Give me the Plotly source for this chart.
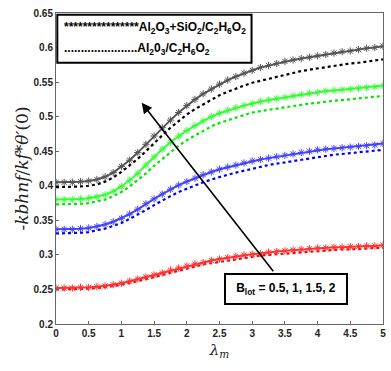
import plotly.graph_objects as go

lam = [i * 0.125 for i in range(41)]

hyb_b2 = [0.405,0.405,0.405,0.406,0.407,0.409,0.413,0.419,0.428,0.437,0.448,0.460,0.472,0.484,0.495,0.506,0.516,0.525,0.533,0.540,0.547,0.553,0.558,0.563,0.567,0.571,0.574,0.577,0.580,0.582,0.584,0.586,0.588,0.590,0.592,0.594,0.595,0.597,0.599,0.600,0.602]
mono_b2 = [0.398,0.398,0.398,0.399,0.400,0.402,0.406,0.412,0.420,0.429,0.439,0.450,0.462,0.473,0.484,0.494,0.503,0.511,0.518,0.525,0.531,0.536,0.541,0.545,0.549,0.552,0.555,0.558,0.561,0.563,0.566,0.568,0.570,0.572,0.574,0.575,0.577,0.578,0.580,0.581,0.583]
hyb_b15 = [0.380,0.380,0.380,0.381,0.382,0.384,0.387,0.392,0.399,0.408,0.418,0.430,0.442,0.453,0.463,0.472,0.480,0.487,0.494,0.500,0.505,0.509,0.513,0.516,0.519,0.522,0.524,0.526,0.528,0.530,0.532,0.534,0.535,0.537,0.538,0.539,0.540,0.541,0.542,0.543,0.545]
mono_b15 = [0.373,0.373,0.373,0.374,0.375,0.377,0.380,0.385,0.391,0.399,0.408,0.418,0.429,0.439,0.449,0.458,0.466,0.473,0.480,0.486,0.491,0.495,0.499,0.503,0.506,0.508,0.510,0.512,0.514,0.516,0.518,0.519,0.520,0.522,0.523,0.524,0.525,0.526,0.527,0.528,0.530]
hyb_b1 = [0.337,0.337,0.337,0.338,0.339,0.341,0.344,0.348,0.353,0.359,0.366,0.374,0.381,0.388,0.395,0.401,0.406,0.411,0.416,0.420,0.424,0.427,0.430,0.433,0.436,0.438,0.440,0.442,0.444,0.446,0.448,0.450,0.452,0.453,0.454,0.455,0.456,0.457,0.458,0.459,0.461]
mono_b1 = [0.331,0.331,0.331,0.332,0.333,0.335,0.338,0.342,0.346,0.352,0.358,0.365,0.372,0.379,0.385,0.391,0.396,0.401,0.405,0.409,0.413,0.416,0.419,0.422,0.425,0.427,0.430,0.432,0.434,0.436,0.438,0.440,0.442,0.443,0.445,0.446,0.447,0.449,0.450,0.451,0.452]
hyb_b05 = [0.252,0.252,0.252,0.253,0.253,0.254,0.255,0.257,0.259,0.262,0.265,0.268,0.271,0.274,0.278,0.281,0.284,0.287,0.289,0.292,0.294,0.296,0.298,0.300,0.301,0.302,0.304,0.305,0.306,0.307,0.308,0.309,0.310,0.310,0.311,0.311,0.312,0.312,0.313,0.313,0.314]
mono_b05 = [0.250,0.250,0.250,0.251,0.251,0.252,0.253,0.255,0.257,0.259,0.262,0.265,0.268,0.271,0.275,0.278,0.281,0.283,0.286,0.288,0.290,0.292,0.294,0.296,0.297,0.299,0.300,0.301,0.302,0.303,0.304,0.305,0.306,0.307,0.307,0.308,0.308,0.309,0.309,0.310,0.310]

x_ticks = [0, 0.5, 1, 1.5, 2, 2.5, 3, 3.5, 4, 4.5, 5]
x_ticklabels = ["0", "0.5", "1", "1.5", "2", "2.5", "3", "3.5", "4", "4.5", "5"]
y_ticks = [0.2, 0.25, 0.3, 0.35, 0.4, 0.45, 0.5, 0.55, 0.6, 0.65]
y_ticklabels = ["0.2", "0.25", "0.3", "0.35", "0.4", "0.45", "0.5", "0.55", "0.6", "0.65"]

series = [
    (hyb_b2, mono_b2, "#000000", "#555555"),
    (hyb_b15, mono_b15, "#00e600", "#33ff33"),
    (hyb_b1, mono_b1, "#0000ff", "#4444ff"),
    (hyb_b05, mono_b05, "#ff0000", "#ff3333"),
]

fig = go.Figure()
for hyb, mono, col, scol in series:
    fig.add_trace(go.Scatter(x=lam, y=mono, mode="lines",
                             line=dict(color=col, width=2.2, dash="dot"),
                             showlegend=False, hoverinfo="skip"))
    fig.add_trace(go.Scatter(x=lam, y=hyb, mode="lines+markers",
                             line=dict(color=scol, width=2),
                             marker=dict(symbol="asterisk-open", size=6,
                                         line=dict(color=scol, width=1)),
                             showlegend=False, hoverinfo="skip"))

axis_common = dict(showline=True, linecolor="#666666", linewidth=1, mirror=True,
                   ticks="inside", ticklen=3, tickcolor="#666666",
                   showgrid=False, zeroline=False, automargin=False,
                   ticklabeloverflow="allow",
                   tickfont=dict(family="Arial, Liberation Sans", size=10, color="#222222"))

fig.update_xaxes(range=[0, 5], tickvals=x_ticks, ticktext=["<b>%s</b>" % t for t in x_ticklabels],
                 title=dict(text="<i>λ<sub>m</sub></i>", font=dict(family="DejaVu Serif", size=15, color="#222222"),
                            standoff=6),
                 **axis_common)
fig.update_yaxes(range=[0.2, 0.65], tickvals=y_ticks, ticktext=["<b>%s</b>" % t for t in y_ticklabels],
                 title=dict(text="-<i>kbhnf</i>/<i>kf</i>*<i>θ′</i>(0)",
                            font=dict(family="DejaVu Serif", size=17, color="#222222"), standoff=0),
                 **axis_common)

# legend box
fig.add_shape(type="rect", xref="paper", yref="paper", x0=0.004, x1=0.598, y0=0.84, y1=0.994,
              line=dict(color="black", width=2), fillcolor="white", layer="above")
fig.add_annotation(xref="paper", yref="paper", x=0.018, y=0.952, xanchor="left", yanchor="middle",
                   showarrow=False,
                   text="<b>****************Al<sub>2</sub>O<sub>3</sub>+SiO<sub>2</sub>/C<sub>2</sub>H<sub>6</sub>O<sub>2</sub></b>",
                   font=dict(family="Arial, Liberation Sans", size=12, color="black"))
fig.add_annotation(xref="paper", yref="paper", x=0.018, y=0.885, xanchor="left", yanchor="middle",
                   showarrow=False,
                   text="<b>......................Al<sub>2</sub>0<sub>3</sub>/C<sub>2</sub>H<sub>6</sub>O<sub>2</sub></b>",
                   font=dict(family="Arial, Liberation Sans", size=12, color="black"))

# arrow
fig.add_annotation(x=1.31, y=0.520, ax=3.34, ay=0.274, xref="x", yref="y", axref="x", ayref="y",
                   text="", showarrow=True, arrowhead=2, arrowsize=1.3, arrowwidth=1.6,
                   arrowcolor="black")
# Biot box
fig.add_annotation(x=3.51, y=0.251, xref="x", yref="y", showarrow=False,
                   text="<b>B<sub>lot</sub> = 0.5, 1, 1.5, 2</b>",
                   font=dict(family="Arial, Liberation Sans", size=12, color="black"),
                   bordercolor="black", borderwidth=2, borderpad=3, bgcolor="white",
                   width=114, height=22)

fig.update_layout(width=391, height=371, margin=dict(l=56, r=8, t=13, b=47),
                  plot_bgcolor="white", paper_bgcolor="white")

fig.write_html("out.html", config={"displayModeBar": False},
               post_script="document.body.style.margin='0px';")
